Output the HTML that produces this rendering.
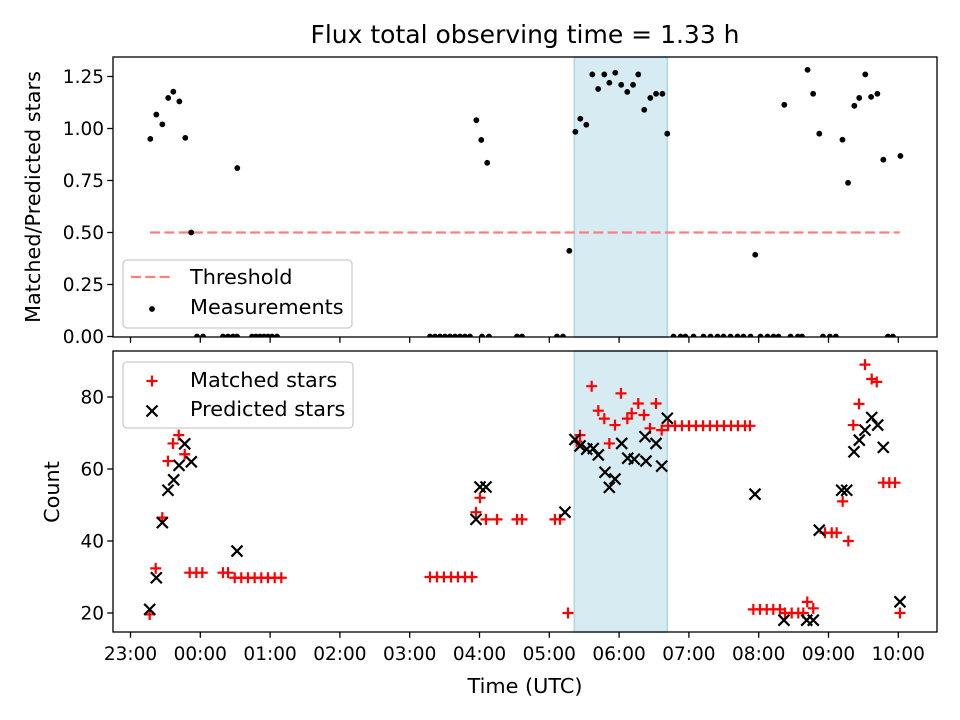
<!DOCTYPE html>
<html><head><meta charset="utf-8"><style>
body{margin:0;background:#fff}
svg{display:block;font-family:"DejaVu Sans","Liberation Sans",sans-serif}
</style></head><body>
<svg id="chart" width="960" height="720" viewBox="0 0 960 720" xmlns="http://www.w3.org/2000/svg">
<rect width="960" height="720" fill="#fff"/>
<text x="525" y="43" font-size="25" text-anchor="middle">Flux total observing time = 1.33 h</text>
<text transform="translate(40,197) rotate(-90)" font-size="20.8" text-anchor="middle">Matched/Predicted stars</text>
<text transform="translate(59,492) rotate(-90)" font-size="20.8" text-anchor="middle">Count</text>
<text x="525" y="693" font-size="20.8" text-anchor="middle">Time (UTC)</text>
<g id="topPanel"></g>
<g id="botPanel"></g>
</svg>
<script>
// hours since 23:00 UTC
const ratioTimes=[0.284,0.37,0.456,0.54,0.613,0.70,0.785,0.87,1.53,4.955,5.025,5.11,6.287,6.373,6.444,6.53,6.616,6.70,6.788,6.86,6.945,7.03,7.117,7.20,7.275,7.36,7.447,7.53,7.62,7.69,8.95,9.367,9.70,9.78,9.868,10.2,10.28,10.37,10.44,10.527,10.61,10.70,10.785,11.03];
const ratioValues=[0.95,1.067,1.02,1.147,1.177,1.13,0.955,0.5,0.81,1.04,0.945,0.835,0.412,0.984,1.047,1.018,1.26,1.19,1.26,1.22,1.268,1.21,1.176,1.21,1.26,1.09,1.147,1.167,1.167,0.975,0.393,1.114,1.282,1.167,0.975,0.946,0.739,1.109,1.147,1.26,1.152,1.167,0.85,0.868];
const zeroTimes=[0.953,1.039,1.325,1.397,1.468,1.526,1.741,1.798,1.855,1.912,1.970,2.027,2.099,4.291,4.362,4.434,4.506,4.577,4.649,4.721,4.792,4.864,5.036,5.136,5.537,5.609,6.110,6.196,7.779,7.880,7.951,8.066,8.209,8.309,8.410,8.496,8.596,8.696,8.782,8.883,9.026,9.126,9.212,9.284,9.456,9.562,9.620,9.921,10.02,10.106,10.851,10.923];
const matchedTimes=[0.275,0.361,0.456,0.537,0.609,0.691,0.777,0.848,0.943,1.029,1.325,1.397,1.493,1.587,1.683,1.779,1.874,1.970,2.066,2.160,4.291,4.391,4.491,4.592,4.692,4.792,4.892,4.950,5.007,5.093,5.251,5.537,5.609,6.081,6.153,6.268,6.392,6.440,6.607,6.702,6.788,6.860,6.941,7.027,7.118,7.181,7.275,7.357,7.443,7.529,7.610,7.701,7.801,7.901,8.002,8.102,8.203,8.302,8.403,8.503,8.603,8.703,8.804,8.875,8.923,9.019,9.115,9.209,9.305,9.377,9.473,9.567,9.639,9.696,9.782,9.950,10.046,10.117,10.284,10.203,10.355,10.437,10.523,10.619,10.691,10.785,10.871,10.953,11.024];
const matchedValues=[19.6,32.4,46.5,62.2,67.1,69.4,64.1,31.2,31.2,31.2,31.2,31.2,29.8,29.8,29.8,29.8,29.8,29.8,29.8,29.8,30,30,30,30,30,30,30,48,52,46,46,46,46,46,46,20,67.6,69.4,83,76.2,74,67.1,72.2,81,74,75.5,78.2,75,71.3,78.2,70.8,72,72,72,72,72,72,72,72,72,72,72,72,72,21,21,21,21,21,20,20,20,20,23.1,21.3,42.3,42.3,42.3,40,51,72.2,78.1,89,85,84.2,56.2,56.2,56.2,20];
const predictedTimes=[0.275,0.370,0.456,0.537,0.619,0.695,0.777,0.871,1.526,4.950,5.007,5.093,6.225,6.368,6.440,6.536,6.630,6.702,6.798,6.860,6.941,7.037,7.123,7.218,7.371,7.385,7.529,7.610,7.691,8.947,9.362,9.688,9.782,9.868,10.189,10.261,10.365,10.441,10.523,10.619,10.705,10.785,11.024];
const predictedValues=[21,29.8,45.1,54.1,57,61,67,62,37.2,46,55,55,48,68.2,66.4,65.5,65.7,63.9,59.1,54.9,57.2,67.1,63,62.7,69,62.2,67.1,60.8,74.1,53,18,18,18,43,54.1,54.1,64.8,68,70.8,74.3,72.2,66,23.1];
const xTickHours=[0,1,2,3,4,5,6,7,8,9,10,11];
const xTickLabels=["23:00","00:00","01:00","02:00","03:00","04:00","05:00","06:00","07:00","08:00","09:00","10:00"];
const topTicks=[0,0.25,0.5,0.75,1.0,1.25];
const topTickLabels=["0.00","0.25","0.50","0.75","1.00","1.25"];
const botTicks=[20,40,60,80];
const threshold=[0.5];
const thresholdRange=[0.28,11.02];
const bandRange=[6.358,7.691];

const NS="http://www.w3.org/2000/svg";
const L=113,R=937;
const x=h=>130.5+h*69.8;
const yT=v=>336.5-v*208;
const yB=v=>613-(v-20)*3.6;
function mk(p,tag,a){const e=document.createElementNS(NS,tag);for(const k in a)e.setAttribute(k,a[k]);p.appendChild(e);return e;}
const topG=document.getElementById('topPanel'),botG=document.getElementById('botPanel');

function band(g,y0,y1,name){
  const bd=mk(g,'rect',{x:x(bandRange[0]),y:y0,width:x(bandRange[1])-x(bandRange[0]),height:y1-y0,fill:'#add8e6','fill-opacity':0.5,stroke:'#add8e6','stroke-width':1.5});
  
  
}
band(topG,57,337,'top');
band(botG,351,632,'bottom');

const th=mk(topG,'line',{x1:x(thresholdRange[0]),x2:x(thresholdRange[1]),y1:yT(threshold[0]),y2:yT(threshold[0]),stroke:'#ff7f7f','stroke-width':2.3,'stroke-dasharray':'10,4.3'});



const defs=mk(document.getElementById('chart'),'defs',{});
const cp=mk(defs,'clipPath',{id:'ct'});mk(cp,'rect',{x:L,y:57,width:R-L,height:280});
const pts=mk(topG,'g',{'clip-path':'url(#ct)'});
ratioTimes.forEach((t,i)=>{const c=mk(pts,'circle',{cx:x(t),cy:yT(ratioValues[i]),r:2.9,fill:'#000'});

});
zeroTimes.forEach(t=>{const c=mk(pts,'circle',{cx:x(t),cy:yT(0),r:2.9,fill:'#000'});

});

function plus(g,cx,cy){mk(g,'path',{d:`M${cx-5.5},${cy}H${cx+5.5}M${cx},${cy-5.5}V${cy+5.5}`,stroke:'#f00','stroke-width':2.2,fill:'none'});}
function cross(g,cx,cy){mk(g,'path',{d:`M${cx-5.5},${cy-5.5}L${cx+5.5},${cy+5.5}M${cx-5.5},${cy+5.5}L${cx+5.5},${cy-5.5}`,stroke:'#000','stroke-width':2.2,fill:'none'});}
matchedTimes.forEach((t,i)=>{const g=mk(botG,'g',{});


plus(g,x(t),yB(matchedValues[i]));});
predictedTimes.forEach((t,i)=>{const g=mk(botG,'g',{});


cross(g,x(t),yB(predictedValues[i]));});

[[topG,57,337],[botG,351,632]].forEach(([g,y0,y1],k)=>{
  const f=mk(g,'rect',{x:L,y:y0,width:R-L,height:y1-y0,fill:'none',stroke:'#000','stroke-width':1.3});
  
  
  xTickHours.forEach((h,i)=>{
    mk(g,'line',{x1:x(h),x2:x(h),y1:y1,y2:y1+5.8,stroke:'#000','stroke-width':1.3});
    if(k){const t=mk(g,'text',{x:x(h),y:y1+28,'font-size':18.5,'text-anchor':'middle'});t.textContent=xTickLabels[i];
    
    }
  });
});
topTicks.forEach((v,i)=>{mk(topG,'line',{x1:L-5.8,x2:L,y1:yT(v),y2:yT(v),stroke:'#000','stroke-width':1.3});
const t=mk(topG,'text',{x:L-9,y:yT(v)+6.5,'font-size':18.5,'text-anchor':'end'});t.textContent=topTickLabels[i];

});
botTicks.forEach(v=>{mk(botG,'line',{x1:L-5.8,x2:L,y1:yB(v),y2:yB(v),stroke:'#000','stroke-width':1.3});
const t=mk(botG,'text',{x:L-9,y:yB(v)+6.5,'font-size':18.5,'text-anchor':'end'});t.textContent=String(v);

});

const lg1=mk(topG,'g',{});


mk(lg1,'rect',{x:123,y:260,width:229,height:68,rx:4,fill:'#fff','fill-opacity':0.8,stroke:'#ccc','stroke-width':1.3});
mk(lg1,'line',{x1:131,x2:172,y1:277,y2:277,stroke:'#ff7f7f','stroke-width':2.3,'stroke-dasharray':'10,4.3'});
mk(lg1,'circle',{cx:152,cy:309,r:2.9,fill:'#000'});
let t=mk(lg1,'text',{x:190,y:284,'font-size':20.8});t.textContent='Threshold';
t=mk(lg1,'text',{x:190,y:314,'font-size':20.8});t.textContent='Measurements';
const lg2=mk(botG,'g',{});


mk(lg2,'rect',{x:123,y:362,width:230,height:66,rx:4,fill:'#fff','fill-opacity':0.8,stroke:'#ccc','stroke-width':1.3});
plus(lg2,152,381);cross(lg2,152,411);
t=mk(lg2,'text',{x:190,y:387,'font-size':20.8});t.textContent='Matched stars';
t=mk(lg2,'text',{x:190,y:416,'font-size':20.8});t.textContent='Predicted stars';
</script>
</body></html>
